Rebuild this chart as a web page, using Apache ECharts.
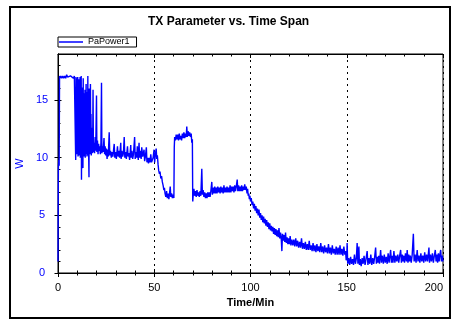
<!DOCTYPE html>
<html>
<head>
<meta charset="utf-8">
<script src="https://cdn.jsdelivr.net/npm/echarts@6/dist/echarts.min.js"></script>
<style>html,body{margin:0;padding:0;background:#fff}#c{width:465px;height:325px}</style>
</head>
<body>
<div id="c"></div>
<script>
const titleText = 'TX Parameter vs. Time Span';
const seriesName = 'PaPower1';
const xName = 'Time/Min';
const yName = 'W';
const xTicks = [0, 50, 100, 150, 200];
const yTicks = [0, 5, 10, 15];

// [time (min), power (W)]
const startupPhase = [[0,1.0],[0.2,9.2],[0.4,9.8],[0.6,9.3],[0.8,17.1],[1,16.9],[1.5,17.1],[2,16.9],[2.5,17.1],[3,16.9],[3.5,17.1],[4,16.9],[4.5,17.2],[5,17.0],[5.5,17.1],[6,16.9],[6.5,17.1],[7,17.0],[7.5,17.1],[8,16.9],[8.5,17.1],[9,17.0]];
const burstPhase = [[9.2,9.8],[9.35,17.0],[9.5,14.5],[9.6,12.0],[9.65,16.9],[9.8,10.3],[9.95,15.8],[10.05,12.6],[10.1,10.6],[10.25,17.0],[10.4,10.1],[10.55,14.9],[10.6,11.8],[10.7,10.8],[10.85,16.8],[11.0,10.2],[11.15,15.5],[11.2,12.4],[11.3,10.5],[11.45,17.0],[11.6,10.0],[11.75,14.6],[11.8,12.1],[11.9,10.7],[12.05,17.1],[12.2,8.1],[12.35,16.1],[12.4,12.8],[12.5,10.4],[12.65,15.3],[12.7,11.9],[12.8,10.2],[12.95,9.1],[13.1,16.9],[13.15,12.3],[13.25,10.6],[13.4,15.6],[13.45,12.7],[13.55,10.1],[13.7,14.8],[13.75,11.6],[13.85,10.5],[14.0,15.9],[14.05,12.2],[14.15,10.0],[14.3,15.2],[14.35,12.9],[14.45,10.6],[14.6,16.4],[14.65,12.4],[14.75,10.3],[14.9,15.0],[14.95,11.7],[15.05,10.1],[15.2,15.7],[15.25,12.5],[15.35,10.4],[15.5,17.1],[15.55,12.0],[15.65,10.2],[15.8,15.4],[15.85,12.6],[15.95,10.0],[16.1,8.3],[16.25,16.0],[16.3,12.2],[16.4,10.5],[16.55,14.9],[16.6,11.9],[16.7,10.3],[16.85,16.4],[17.0,10.6],[17.15,13.8],[17.3,10.2],[17.45,12.6],[17.6,10.7],[17.8,11.8],[18.0,10.4],[18.2,15.9],[18.4,10.5]];
const settlePhase = [[18.7,11.3],[19.0,10.4],[19.3,11.8],[19.6,10.6],[20.0,15.4],[20.2,10.5],[20.5,11.5],[20.8,10.3],[21.1,11.2],[21.4,10.6],[21.7,11.0],[22.0,10.3],[22.3,11.3],[22.6,16.5],[22.8,10.4],[23.1,11.0],[23.4,10.5],[23.9,11.7],[24.2,10.3],[24.5,11.0],[24.8,10.2],[25.1,10.8],[25.5,9.9],[25.8,10.7],[26.1,10.1],[26.6,12.2],[26.9,10.2],[27.3,10.6],[27.7,10.0],[28.1,10.5],[28.5,10.1],[29.2,11.2],[29.5,10.0],[29.9,10.5],[30.3,9.9],[30.9,11.0],[31.2,10.1],[31.6,10.6],[32.0,10.0],[32.6,11.3],[32.8,9.9],[33.2,10.6],[33.6,10.1],[34.0,10.4],[34.4,11.8],[34.7,10.0],[35.1,10.5],[35.5,9.9],[36.1,11.0],[36.4,10.1],[36.8,10.4],[37.2,9.8],[37.8,11.1],[38.0,10.0],[38.4,10.6],[38.8,9.9],[39.2,10.3],[39.8,11.8],[40.1,9.9],[40.5,10.5],[40.9,10.0],[41.2,11.0],[41.7,9.8],[42.1,11.3],[42.4,10.0],[42.8,10.6],[43.2,9.9],[43.5,10.9],[44.0,10.1],[44.7,10.7],[45.0,9.7],[45.4,10.1],[45.9,10.9],[46.2,9.6],[46.6,10.0],[47.0,9.5],[47.4,10.0],[47.8,9.6],[48.2,10.3],[48.6,9.6],[49.0,9.5],[49.4,10.0],[49.9,10.7],[50.2,9.6],[50.6,10.3],[51.0,10.8]];
const dropPhase = [[51.3,9.9],[51.6,10.2],[52.0,9.4],[52.3,8.9],[52.7,8.6],[53.0,8.8],[53.4,8.2],[53.8,8.4],[54.2,7.9],[54.6,7.6],[55.0,7.2],[55.3,7.4],[55.6,6.9],[56.0,6.6],[56.4,7.1],[56.8,6.5],[57.2,6.9],[57.6,6.4],[58.0,7.0],[58.3,7.5],[58.6,6.6],[59.0,6.9],[59.4,6.5],[59.8,6.8],[60.2,6.5],[60.4,10.9],[60.6,11.8]];
const highPhase = [[61.0,11.5],[61.4,12.0],[61.8,11.6],[62.2,12.0],[62.6,11.5],[63.0,12.1],[63.4,11.6],[63.8,11.9],[64.2,11.5],[64.6,12.1],[65.0,11.7],[65.4,12.2],[65.8,11.7],[66.2,12.1],[66.6,11.8],[66.9,12.7],[67.2,11.8],[67.6,12.3],[68.0,11.9],[68.4,12.2],[68.8,11.8],[69.2,12.1],[69.5,11.3],[69.8,11.6],[70.0,6.2]];
const midPhase = [[70.3,6.9],[70.6,7.3],[71.0,6.7],[71.4,7.1],[71.8,6.6],[72.2,7.2],[72.6,6.7],[73.0,7.0],[73.4,6.6],[73.8,7.1],[74.2,6.7],[74.7,9.05],[75.0,6.8],[75.4,7.2],[75.8,6.6],[76.2,7.0],[76.6,6.5],[77.0,6.9],[77.4,6.5],[77.8,7.0],[78.2,6.6],[78.6,7.0],[79.0,6.6],[79.4,7.1],[79.9,7.9],[80.2,6.8],[80.6,7.4],[81.0,6.9],[81.4,7.5],[81.8,6.9],[82.2,7.4],[82.6,6.9],[83.0,7.5],[83.4,7.0],[83.8,7.4],[84.2,6.9],[84.6,7.5],[85.0,7.0],[85.4,7.4],[85.8,6.9],[86.2,7.6],[86.6,7.0],[87.0,7.4],[87.4,7.0],[87.8,7.5],[88.2,7.0],[88.6,7.4],[89.0,7.0],[89.4,7.6],[89.8,7.0],[90.2,7.5],[90.6,7.1],[91.0,7.5],[91.4,7.0],[91.8,7.6],[92.2,7.1],[92.6,7.5],[93.1,8.1],[93.4,7.1],[93.8,7.6],[94.2,7.1],[94.6,7.5],[95.0,7.1],[95.4,7.6],[95.8,7.1],[96.2,7.5],[96.6,7.2],[97.0,7.7],[97.4,7.2],[97.8,7.5]];
const decayPhase = [[98.2,6.9],[98.5,7.3],[98.8,6.7],[99.1,6.9],[99.4,6.4],[99.7,6.7],[100.0,6.2],[100.4,6.5],[100.8,5.9],[101.2,6.2],[101.6,5.6],[102.0,6.0],[102.4,5.4],[102.8,5.8],[103.2,5.2],[103.6,5.6],[104.0,5.0],[104.4,5.5],[104.8,4.8],[105.2,5.2],[105.6,4.6],[106.0,5.0],[106.4,4.4],[106.8,4.9],[107.2,4.3],[107.6,4.7],[108.0,4.1],[108.4,4.6],[108.8,4.0],[109.2,4.4],[109.6,3.8],[110.0,4.3],[110.4,3.7],[110.8,4.1],[111.2,3.6],[111.6,4.0],[112.0,3.4],[112.4,3.9],[112.8,3.3],[113.2,3.8],[113.6,3.2],[114.0,3.7],[114.4,3.1],[114.8,3.9],[115.2,3.0],[115.6,3.5],[116.0,2.9],[116.3,1.9],[116.6,3.4],[117.0,2.8],[117.4,3.3],[117.8,2.7],[118.2,3.5],[118.6,2.6],[119.0,3.1],[119.4,2.5],[119.8,3.0],[120.2,2.5],[120.6,3.2],[121.0,2.4],[121.5,2.9],[122.0,2.4],[122.5,2.9],[123.0,2.3],[123.5,3.0],[124.0,2.3],[124.5,2.8],[125.0,2.2],[125.5,2.7],[126.0,2.2],[126.5,3.0],[127.0,2.1],[127.5,2.6],[128.0,2.1],[128.5,2.7],[129.0,2.0],[129.5,2.5],[130.0,2.0],[130.5,2.8],[131.0,2.0],[131.5,2.4],[132.0,1.9],[132.5,2.6],[133.0,1.9],[133.5,2.4],[134.0,1.8],[134.5,2.5],[135.0,1.9],[135.5,2.3],[136.0,1.8],[136.5,2.6],[137.0,1.8],[137.5,2.3],[138.0,1.7],[138.5,2.4],[139.0,1.8],[139.5,2.2],[140.0,1.7],[140.5,2.5],[141.0,1.7],[141.5,2.2],[142.0,1.6],[142.5,2.4],[143.0,1.7],[143.5,2.1],[144.0,1.6],[144.5,2.3],[145.0,1.6],[145.5,2.2],[146.0,1.6],[146.5,2.4],[147.0,1.6],[147.5,2.1],[148.0,1.5],[148.5,2.3],[149.0,1.6],[149.4,1.9],[149.7,1.1]];
const floorPhase = [[150.0,1.3],[150.2,2.6],[150.5,0.8],[151.0,1.3],[151.5,0.7],[152.0,1.4],[152.5,0.8],[153.0,1.2],[153.5,0.7],[154.0,1.6],[154.5,0.8],[155.0,1.3],[155.4,2.6],[155.8,0.8],[156.3,2.3],[156.6,0.7],[157.0,1.2],[157.5,0.6],[158.0,1.3],[158.5,0.8],[159.0,1.5],[159.5,0.7],[160.0,1.2],[160.6,1.9],[161.0,0.7],[161.5,1.3],[162.0,0.8],[162.5,1.6],[163.0,0.7],[163.5,1.3],[164.0,0.8],[164.5,1.4],[165.0,2.2],[165.4,0.8],[165.8,1.4],[166.2,0.9],[166.6,1.5],[167.0,0.8],[167.6,2.0],[168.0,0.9],[168.5,1.5],[169.0,0.8],[169.5,1.6],[170.0,0.9],[170.5,1.4],[171.0,0.8],[171.5,1.7],[172.0,0.9],[172.8,2.0],[173.2,0.9],[173.6,1.5],[174.0,0.9],[174.5,1.9],[175.0,0.9],[175.5,1.5],[176.0,1.0],[176.5,1.6],[177.0,0.9],[177.5,1.5],[178.0,2.0],[178.4,0.9],[178.8,1.6],[179.2,1.0],[179.6,1.5],[180.0,0.9],[180.5,1.7],[181.0,1.0],[181.4,2.0],[181.8,0.9],[182.2,1.6],[182.6,1.0],[183.0,1.5],[183.5,0.9],[184.0,1.6],[184.6,3.4],[185.0,1.0],[185.5,1.6],[186.0,0.9],[186.6,2.0],[187.0,1.0],[187.5,1.5],[188.0,0.9],[188.5,1.7],[189.0,1.0],[189.5,1.5],[190.0,0.9],[190.5,1.8],[191.0,1.0],[191.5,1.6],[192.0,1.0],[192.7,2.2],[193.0,0.9],[193.5,1.6],[194.0,1.0],[194.5,1.7],[195.0,0.9],[195.5,1.5],[196.0,2.0],[196.4,1.0],[196.8,1.6],[197.2,0.9],[197.6,1.7],[198.0,1.0],[198.4,1.6],[198.8,2.0],[199.2,1.0],[199.6,1.5],[200.0,1.0]];

const paPower1 = [].concat(startupPhase, burstPhase, settlePhase, dropPhase, highPhase, midPhase, decayPhase, floorPhase);

const BLUE = '#0000ff';
const BLACK = '#000000';
const FONT = 'Liberation Sans, Arial, sans-serif';

const chart = echarts.init(document.getElementById('c'), null, {renderer: 'canvas'});

const commonX = {type: 'value', min: 0, max: 200, interval: 50};
const commonY = {type: 'value', min: 0, max: 19, interval: 5};
const blackLine = {show: true, onZero: false, lineStyle: {color: BLACK, width: 1}};

chart.setOption({
  animation: false,
  backgroundColor: '#ffffff',
  title: {
    text: titleText, left: 148, top: 15, padding: 0,
    textStyle: {fontFamily: FONT, fontSize: 12, fontWeight: 'bold', color: BLACK, lineHeight: 13}
  },
  legend: {
    data: [{name: seriesName, icon: 'rect'}], left: 58, top: 37, padding: [0, 7, 0, 1],
    borderColor: BLACK, borderWidth: 1, borderRadius: 0,
    itemWidth: 24, itemHeight: 1.5, itemGap: 0,
    itemStyle: {color: BLUE, borderWidth: 0},
    textStyle: {fontFamily: FONT, fontSize: 9, color: BLACK, lineHeight: 10}
  },
  graphic: [{
    type: 'rect', shape: {x: 10, y: 7, width: 440, height: 311},
    style: {fill: null, stroke: BLACK, lineWidth: 2}, silent: true, z: 100
  }],
  grid: {left: 58, top: 54, right: 22, bottom: 52, show: true, borderColor: BLACK, borderWidth: 1, backgroundColor: '#fff', outerBoundsMode: 'none', containLabel: false},
  xAxis: [
    Object.assign({}, commonX, {
      position: 'bottom',
      name: xName, nameLocation: 'middle', nameGap: 24,
      nameTextStyle: {fontFamily: FONT, fontSize: 11, fontWeight: 'bold', color: BLACK},
      axisLine: blackLine,
      axisTick: {show: true, inside: false, length: 4, lineStyle: {color: BLACK, width: 1}},
      minorTick: {show: true, splitNumber: 5, length: 2.5, lineStyle: {color: BLACK, width: 1}},
      axisLabel: {fontFamily: FONT, fontSize: 11, color: BLACK, margin: 9, alignMaxLabel: 'right', customValues: xTicks},
      splitLine: {show: true, lineStyle: {color: BLACK, width: 1, type: [2, 4]}},
      minorSplitLine: {show: false}
    }),
    Object.assign({}, commonX, {
      position: 'bottom',
      axisLine: blackLine,
      axisTick: {show: true, inside: true, length: 4, lineStyle: {color: BLACK, width: 1}},
      minorTick: {show: true, splitNumber: 5, length: 2.5, lineStyle: {color: BLACK, width: 1}},
      axisLabel: {show: false}, splitLine: {show: false}
    }),
    Object.assign({}, commonX, {
      position: 'top',
      axisLine: blackLine,
      axisTick: {show: true, inside: true, length: 4, lineStyle: {color: BLACK, width: 1}},
      minorTick: {show: true, splitNumber: 5, length: 2.5, lineStyle: {color: BLACK, width: 1}},
      axisLabel: {show: false}, splitLine: {show: false}
    })
  ],
  yAxis: [
    Object.assign({}, commonY, {
      position: 'left',
      name: yName, nameLocation: 'middle', nameGap: 25,
      nameTextStyle: {fontFamily: FONT, fontSize: 11, color: BLUE},
      axisLine: blackLine,
      axisTick: {show: true, inside: false, length: 3.5, lineStyle: {color: BLACK, width: 1}, customValues: yTicks},
      minorTick: {show: false},
      axisLabel: {fontFamily: FONT, fontSize: 11, color: BLUE, margin: 16, align: 'center', customValues: yTicks},
      splitLine: {show: false}
    }),
    Object.assign({}, commonY, {
      position: 'left',
      axisLine: blackLine,
      axisTick: {show: true, inside: true, length: 3.5, lineStyle: {color: BLACK, width: 1}, customValues: yTicks},
      minorTick: {show: true, splitNumber: 5, length: 2.5, lineStyle: {color: BLACK, width: 1}},
      axisLabel: {show: false}, splitLine: {show: false}
    })
  ],
  series: [{
    name: seriesName, type: 'line', xAxisIndex: 0, yAxisIndex: 0,
    data: paPower1, symbol: 'none', showSymbol: false,
    lineStyle: {color: BLUE, width: 1.4}, itemStyle: {color: BLUE},
    clip: true, sampling: null
  }]
});
</script>
</body>
</html>
